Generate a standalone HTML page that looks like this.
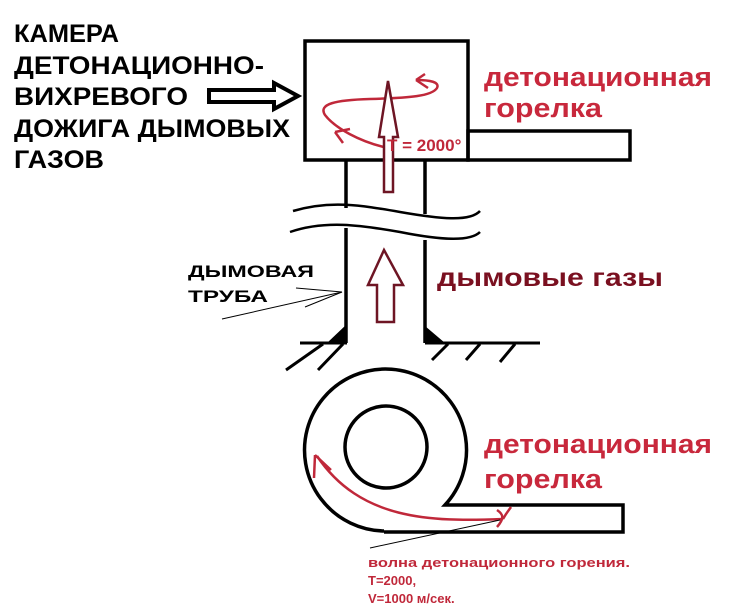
<!DOCTYPE html>
<html><head><meta charset="utf-8"><style>
html,body{margin:0;padding:0;background:#fff;}
svg{display:block;}
text{font-family:"Liberation Sans","DejaVu Sans",sans-serif;font-weight:bold;}
</style></head><body>
<svg width="729" height="613" viewBox="0 0 729 613" xmlns="http://www.w3.org/2000/svg">
<g fill="#000" font-size="25">
<text x="14" y="42" textLength="105" lengthAdjust="spacingAndGlyphs">КАМЕРА</text>
<text x="14" y="74" textLength="250" lengthAdjust="spacingAndGlyphs">ДЕТОНАЦИОННО-</text>
<text x="14" y="105" textLength="174" lengthAdjust="spacingAndGlyphs">ВИХРЕВОГО</text>
<text x="14" y="137" textLength="276" lengthAdjust="spacingAndGlyphs">ДОЖИГА ДЫМОВЫХ</text>
<text x="14" y="168" textLength="90" lengthAdjust="spacingAndGlyphs">ГАЗОВ</text>
</g>
<polygon points="209,90 274,90 274,83 298,96 274,109 274,102 209,102" fill="#fff" stroke="#000" stroke-width="4"/>
<g fill="none" stroke="#000" stroke-width="3.5">
<rect x="305" y="41" width="163" height="119"/>
<rect x="468" y="131" width="162" height="29"/>
<line x1="346" y1="160" x2="346" y2="208"/>
<line x1="425" y1="160" x2="425" y2="214"/>
<line x1="346" y1="228" x2="346" y2="343"/>
<line x1="425" y1="240" x2="425" y2="343"/>
</g>
<g fill="none" stroke="#000" stroke-width="2.5">
<path d="M293,211 C330,200 360,205 400,212 C440,219 470,222 480,211"/>
<path d="M290,232 C325,220 360,225 400,232 C440,240 470,242 480,232"/>
</g>
<g stroke="#000" stroke-width="3" fill="none">
<line x1="300" y1="343" x2="347" y2="343"/>
<line x1="425" y1="343" x2="540" y2="343"/>
<line x1="323" y1="344" x2="286" y2="370"/>
<line x1="343" y1="344" x2="318" y2="370"/>
<line x1="448" y1="344" x2="432" y2="360"/>
<line x1="480" y1="344" x2="466" y2="360"/>
<line x1="515" y1="344" x2="500" y2="362"/>
</g>
<polygon points="347,324 347,343 327,343" fill="#000"/>
<polygon points="425,326 425,343 445,343" fill="#000"/>
<g stroke="#000" stroke-width="1">
<line x1="296" y1="288" x2="342" y2="292"/>
<line x1="222" y1="319" x2="342" y2="292"/>
<line x1="305" y1="307" x2="342" y2="292"/>
</g>
<text x="188" y="277" font-size="17" textLength="126" lengthAdjust="spacingAndGlyphs">ДЫМОВАЯ</text>
<text x="188" y="302" font-size="17" textLength="80" lengthAdjust="spacingAndGlyphs">ТРУБА</text>
<polygon points="384,250 403,285 394,285 394,322 377,322 377,285 368,285" fill="#fff" stroke="#6e1524" stroke-width="2.5"/>
<g fill="none" stroke="#c0283a" stroke-width="2.5">
<path d="M388,148 C360,142 335,128 325,115 C318,104 335,100 370,99 C410,98 432,96 437,88 C440,82 430,80 416,80"/>
<path d="M416,80 L425,74 M416,80 L428,88"/>
<path d="M335,132 L350,129 M335,132 L343,143"/>
</g>
<polygon points="388,81 398,137 393,137 393,192 384,192 384,137 379,137" fill="#fff" stroke="#6e1524" stroke-width="2.5"/>
<text x="387" y="151" font-size="17" fill="#c0283a" font-weight="bold">T = 2000°</text>
<text x="484" y="86" font-size="27" fill="#c8283c" textLength="228" lengthAdjust="spacingAndGlyphs">детонационная</text>
<text x="484" y="117" font-size="27" fill="#c8283c" textLength="118" lengthAdjust="spacingAndGlyphs">горелка</text>
<text x="437" y="286" font-size="25" fill="#7a1020" textLength="226" lengthAdjust="spacingAndGlyphs">дымовые газы</text>
<g fill="none" stroke="#000" stroke-width="3.5">
<path d="M384,531 A81,81 0 1 1 445,505 L623,505 L623,532 L384,532"/>
<circle cx="386" cy="447" r="41"/>
</g>
<g fill="none" stroke="#c0283a" stroke-width="2.5">
<path d="M503,519 C430,522 360,520 317,456"/>
<path d="M315,455 L314,478 M315,455 L331,470"/>
<path d="M497,510 C503,514 505,518 497,527 M503,519 C507,512 509,510 511,507"/>
</g>
<line x1="370" y1="548" x2="500" y2="520" stroke="#000" stroke-width="1"/>
<text x="484" y="453" font-size="27" fill="#c8283c" textLength="228" lengthAdjust="spacingAndGlyphs">детонационная</text>
<text x="484" y="488" font-size="27" fill="#c8283c" textLength="118" lengthAdjust="spacingAndGlyphs">горелка</text>
<g font-size="13" fill="#c0283a">
<text x="368" y="567" textLength="262" lengthAdjust="spacingAndGlyphs">волна детонационного горения.</text>
<text x="368" y="585">T=2000,</text>
<text x="368" y="603">V=1000 м/сек.</text>
</g>
</svg>
</body></html>
